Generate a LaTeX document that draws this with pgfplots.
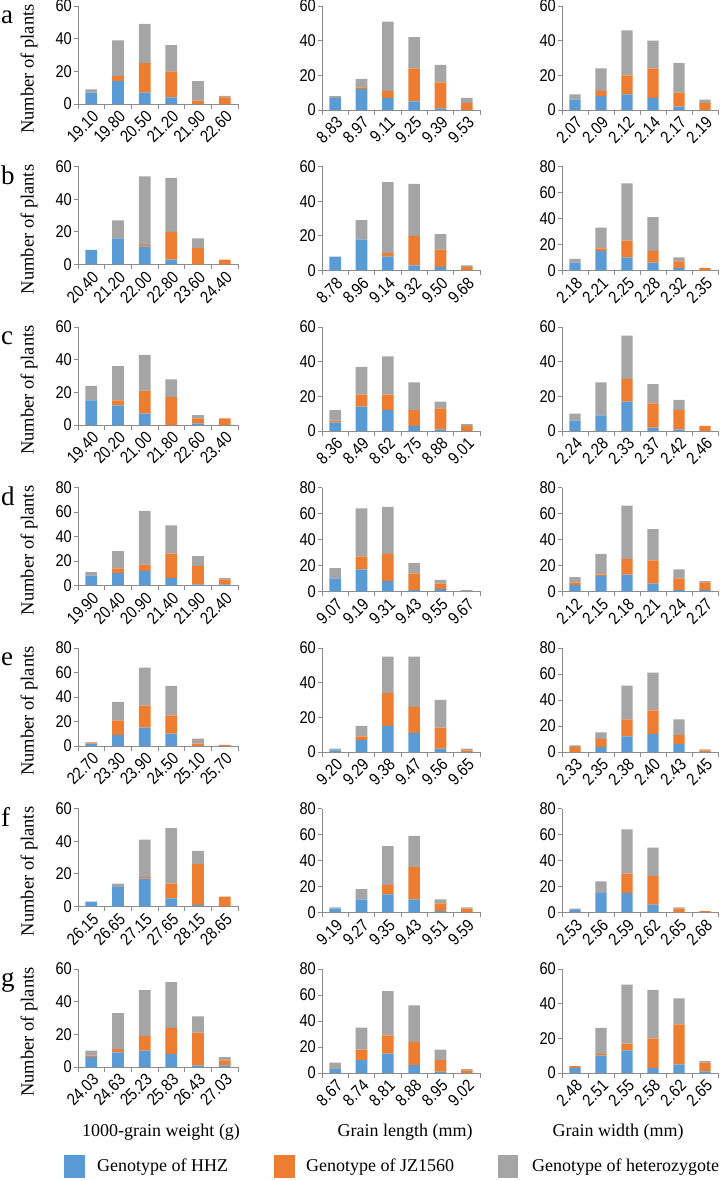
\documentclass[border=0pt]{standalone}
\usepackage{fontspec}
\setmainfont{Liberation Serif}
\newfontfamily\arial[FakeStretch=0.86]{Liberation Sans}
\usepackage{pgfplots}
\pgfplotsset{compat=1.18}
\definecolor{hhz}{HTML}{5B9BD5}
\definecolor{jz}{HTML}{ED7D31}
\definecolor{het}{HTML}{A5A5A5}
\definecolor{axgray}{HTML}{8C8C8C}

\pgfplotsset{
  panel/.style={
    scale only axis, anchor=south west,
    ybar stacked, bar width=0.44,
    xmin=-0.5, xmax=5.5, ymin=0,
    xtick={0,1,2,3,4,5},
    minor xtick={-0.5,0.5,1.5,2.5,3.5,4.5,5.5},
    ytick distance=20,
    axis x line*=bottom, axis y line*=left,
    axis line style={axgray, line width=0.9pt},
    tick align=outside,
    major tick length=4pt, minor tick length=5pt,
    tick style={axgray, line width=0.9pt},
    major x tick style={draw=none},
    /pgf/number format/assume math mode=true,
    ticklabel style={font=\fontsize{17}{17}\selectfont\arial},
    xticklabel style={rotate=45, anchor=north east, inner sep=1pt},
    yticklabel style={inner sep=2pt},
  },
}

% x, y, width, height, ymax, labels, HHZ, JZ1560, heterozygote
\newcommand\panel[9]{%
  \begin{axis}[panel, at={(#1pt,#2pt)}, width=#3pt, height=#4pt, ymax=#5, xticklabels={#6}]
    \addplot[fill=hhz, draw=none] coordinates {#7};
    \addplot[fill=jz, draw=none] coordinates {#8};
    \addplot[fill=het, draw=none] coordinates {#9};
  \end{axis}}

\begin{document}
\begin{tikzpicture}
\useasboundingbox (0,0) rectangle (722pt,1181pt);

% row a
\panel{78}{1077}{160}{98}{60}{19.10,19.80,20.50,21.20,21.90,22.60}
  {(0,7)(1,14)(2,7)(3,4)(4,0)(5,0)}{(0,0)(1,3)(2,18)(3,16)(4,2)(5,4)}{(0,2)(1,22)(2,24)(3,16)(4,12)(5,1)}
\panel{322}{1071}{158}{104}{60}{8.83,8.97,9.11,9.25,9.39,9.53}
  {(0,7)(1,12)(2,7)(3,5)(4,1)(5,0)}{(0,0)(1,1)(2,4)(3,19)(4,15)(5,4)}{(0,1)(1,5)(2,40)(3,18)(4,10)(5,3)}
\panel{562}{1071}{156}{104}{60}{2.07,2.09,2.12,2.14,2.17,2.19}
  {(0,6)(1,8)(2,9)(3,7)(4,2)(5,0)}{(0,0)(1,3)(2,11)(3,17)(4,8)(5,4)}{(0,3)(1,13)(2,26)(3,16)(4,17)(5,2)}

% row b
\panel{78}{916.5}{160}{98}{60}{20.40,21.20,22.00,22.80,23.60,24.40}
  {(0,9)(1,16)(2,11)(3,3)(4,0)(5,0)}{(0,0)(1,0)(2,1)(3,17)(4,10)(5,3)}{(0,0)(1,11)(2,42)(3,33)(4,6)(5,0)}
\panel{322}{910.5}{158}{104}{60}{8.78,8.96,9.14,9.32,9.50,9.68}
  {(0,8)(1,18)(2,8)(3,3)(4,2)(5,0)}{(0,0)(1,0)(2,2)(3,17)(4,10)(5,2)}{(0,0)(1,11)(2,41)(3,30)(4,9)(5,1)}
\panel{562}{910.5}{156}{104}{80}{2.18,2.21,2.25,2.28,2.32,2.35}
  {(0,6)(1,15)(2,10)(3,6)(4,2)(5,0)}{(0,0)(1,2)(2,13)(3,9)(4,5)(5,2)}{(0,3)(1,16)(2,44)(3,26)(4,3)(5,0)}

% row c
\panel{78}{756}{160}{98}{60}{19.40,20.20,21.00,21.80,22.60,23.40}
  {(0,15)(1,12)(2,7)(3,0)(4,1)(5,0)}{(0,0)(1,3)(2,14)(3,17)(4,3)(5,4)}{(0,9)(1,21)(2,22)(3,11)(4,2)(5,0)}
\panel{322}{750}{158}{104}{60}{8.36,8.49,8.62,8.75,8.88,9.01}
  {(0,5)(1,14)(2,12)(3,3)(4,1)(5,0)}{(0,1)(1,7)(2,9)(3,9)(4,12)(5,3)}{(0,6)(1,16)(2,22)(3,16)(4,4)(5,1)}
\panel{562}{750}{156}{104}{60}{2.24,2.28,2.33,2.37,2.42,2.46}
  {(0,6)(1,9)(2,17)(3,2)(4,1)(5,0)}{(0,0)(1,0)(2,13)(3,14)(4,11)(5,3)}{(0,4)(1,19)(2,25)(3,11)(4,6)(5,0)}

% row d
\panel{78}{595.5}{160}{98}{80}{19.90,20.40,20.90,21.40,21.90,22.40}
  {(0,8)(1,10)(2,12)(3,6)(4,1)(5,1)}{(0,0)(1,4)(2,5)(3,20)(4,15)(5,4)}{(0,3)(1,14)(2,44)(3,23)(4,8)(5,1)}
\panel{322}{589.5}{158}{104}{80}{9.07,9.19,9.31,9.43,9.55,9.67}
  {(0,10)(1,17)(2,8)(3,1)(4,2)(5,0)}{(0,0)(1,10)(2,21)(3,13)(4,4)(5,0)}{(0,8)(1,37)(2,36)(3,8)(4,3)(5,1)}
\panel{562}{589.5}{156}{104}{80}{2.12,2.15,2.18,2.21,2.24,2.27}
  {(0,5)(1,12)(2,13)(3,6)(4,1)(5,1)}{(0,2)(1,1)(2,12)(3,18)(4,9)(5,6)}{(0,4)(1,16)(2,41)(3,24)(4,7)(5,1)}

% row e
\panel{78}{435}{160}{98}{80}{22.70,23.30,23.90,24.50,25.10,25.70}
  {(0,2)(1,9)(2,15)(3,10)(4,0)(5,0)}{(0,1)(1,12)(2,18)(3,15)(4,2)(5,1)}{(0,0)(1,15)(2,31)(3,24)(4,4)(5,0)}
\panel{322}{429}{158}{104}{60}{9.20,9.29,9.38,9.47,9.56,9.65}
  {(0,1)(1,7)(2,15)(3,11)(4,2)(5,0)}{(0,0)(1,2)(2,19)(3,15)(4,12)(5,1)}{(0,1)(1,6)(2,21)(3,29)(4,16)(5,1)}
\panel{562}{429}{156}{104}{80}{2.33,2.35,2.38,2.40,2.43,2.45}
  {(0,0)(1,4)(2,12)(3,14)(4,6)(5,0)}{(0,4)(1,6)(2,13)(3,18)(4,7)(5,1)}{(0,1)(1,5)(2,26)(3,29)(4,12)(5,1)}

% row f
\panel{78}{274.5}{160}{98}{60}{26.15,26.65,27.15,27.65,28.15,28.65}
  {(0,3)(1,12)(2,17)(3,5)(4,1)(5,0)}{(0,0)(1,0)(2,1)(3,9)(4,25)(5,6)}{(0,0)(1,2)(2,23)(3,34)(4,8)(5,0)}
\panel{322}{268.5}{158}{104}{80}{9.19,9.27,9.35,9.43,9.51,9.59}
  {(0,3)(1,10)(2,14)(3,10)(4,1)(5,0)}{(0,0)(1,0)(2,7)(3,25)(4,6)(5,3)}{(0,1)(1,8)(2,30)(3,24)(4,3)(5,1)}
\panel{562}{268.5}{156}{104}{80}{2.53,2.56,2.59,2.62,2.65,2.68}
  {(0,2)(1,15)(2,15)(3,6)(4,0)(5,0)}{(0,0)(1,0)(2,15)(3,22)(4,3)(5,1)}{(0,1)(1,9)(2,34)(3,22)(4,1)(5,0)}

% row g
\panel{78}{114}{160}{98}{60}{24.03,24.63,25.23,25.83,26.43,27.03}
  {(0,6)(1,9)(2,10)(3,8)(4,1)(5,1)}{(0,1)(1,2)(2,9)(3,16)(4,20)(5,3)}{(0,3)(1,22)(2,28)(3,28)(4,10)(5,2)}
\panel{322}{108}{158}{104}{80}{8.67,8.74,8.81,8.88,8.95,9.02}
  {(0,3)(1,10)(2,15)(3,6)(4,1)(5,0)}{(0,0)(1,8)(2,14)(3,18)(4,9)(5,2)}{(0,5)(1,17)(2,34)(3,28)(4,8)(5,1)}
\panel{562}{108}{156}{104}{60}{2.48,2.51,2.55,2.58,2.62,2.65}
  {(0,3)(1,10)(2,13)(3,3)(4,5)(5,1)}{(0,1)(1,1)(2,4)(3,17)(4,23)(5,5)}{(0,0)(1,15)(2,34)(3,28)(4,15)(5,1)}

% row letters and y labels
\foreach \l/\yb/\yc in {a/1157/1112, b/996.5/951.5, c/836/791, d/675.5/630.5, e/515/470, f/354.5/309.5, g/194/149} {
  \node[anchor=base west, inner sep=0pt, font=\fontsize{27}{27}\selectfont] at (1pt,\yb pt) {\l};
  \node[rotate=90, inner sep=0pt, font=\fontsize{18.5}{18.5}\selectfont] at (29pt,\yc pt) {Number of plants};
}

% x axis titles
\node[font=\fontsize{18}{18}\selectfont] at (161pt,49pt) {1000-grain weight (g)};
\node[font=\fontsize{18}{18}\selectfont] at (405pt,49pt) {Grain length (mm)};
\node[font=\fontsize{18}{18}\selectfont] at (618pt,49pt) {Grain width (mm)};

% legend
\fill[hhz] (64pt,3pt) rectangle (85pt,26pt);
\node[anchor=west, inner sep=0pt, font=\fontsize{18}{18}\selectfont] at (97pt,14pt) {Genotype of HHZ};
\fill[jz] (274pt,3pt) rectangle (295pt,26pt);
\node[anchor=west, inner sep=0pt, font=\fontsize{18}{18}\selectfont] at (306pt,14pt) {Genotype of JZ1560};
\fill[het] (498pt,3pt) rectangle (518pt,26pt);
\node[anchor=west, inner sep=0pt, font=\fontsize{18}{18}\selectfont] at (532pt,14pt) {Genotype of heterozygote};
\end{tikzpicture}
\end{document}
